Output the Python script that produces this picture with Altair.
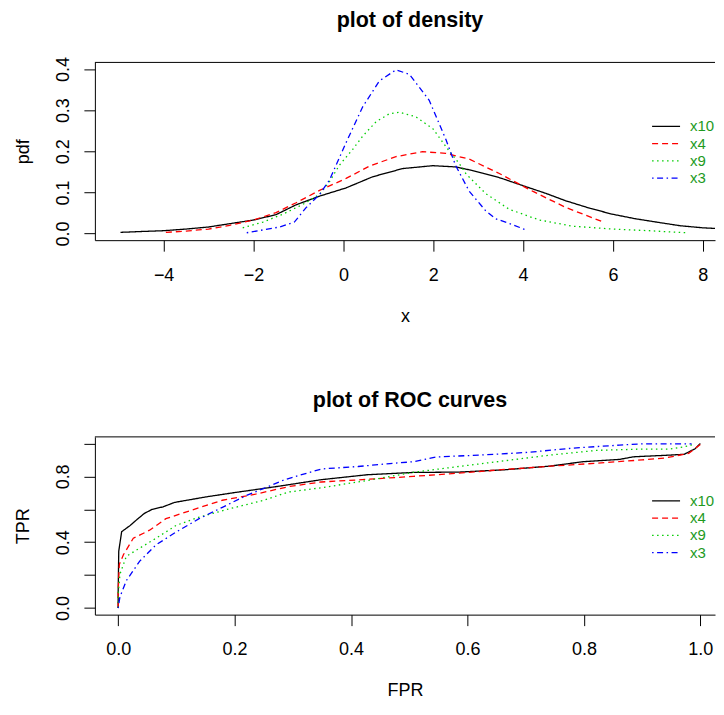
import altair as alt
import pandas as pd

series = ["x10", "x4", "x9", "x3"]
colors = ["#000000", "#FF0000", "#00CD00", "#0000FF"]
dashes = [[1, 0], [6, 4], [1.5, 3.5], [1.5, 3.5, 6, 3.5]]
legend_text_color = "#1E9A1E"
FONT = "Liberation Sans"

# ---- density panel data ----
d_x10_x = [-4.96, -4.5, -4.0, -3.5, -3.0, -2.53, -2.0, -1.5, -1.05, -0.53, 0.06, 0.65, 1.32, 1.99,
           2.5, 2.8, 3.1, 3.5, 4.06, 4.5, 4.94, 5.5, 5.99, 6.5, 7.02, 7.5, 8.0, 8.36, 8.7]
d_x10_y = [0.003, 0.005, 0.007, 0.011, 0.016, 0.024, 0.033, 0.046, 0.070, 0.091, 0.111, 0.138, 0.158, 0.165,
           0.162, 0.155, 0.147, 0.135, 0.114, 0.098, 0.080, 0.061, 0.047, 0.036, 0.027, 0.019, 0.014, 0.012, 0.010]
d_x4_x = [-3.95, -3.5, -3.0, -2.53, -2.0, -1.5, -1.05, -0.53, 0.06, 0.58, 1.17, 1.76, 2.28, 2.8,
          3.47, 4.21, 4.94, 5.76]
d_x4_y = [0.003, 0.006, 0.011, 0.020, 0.033, 0.051, 0.075, 0.105, 0.134, 0.164, 0.187, 0.199, 0.195, 0.181,
          0.146, 0.103, 0.064, 0.029]
d_x9_x = [-2.24, -1.79, -1.35, -0.9, -0.53, -0.31, -0.09, 0.21, 0.43, 0.73, 1.02, 1.24, 1.61, 1.99,
          2.36, 2.58, 2.73, 3.17, 3.69, 4.36, 5.1, 5.98, 6.8, 7.62]
d_x9_y = [0.014, 0.028, 0.047, 0.071, 0.095, 0.126, 0.166, 0.205, 0.237, 0.272, 0.291, 0.295, 0.284, 0.255,
          0.200, 0.170, 0.145, 0.097, 0.059, 0.033, 0.018, 0.011, 0.007, 0.002]
d_x3_x = [-2.15, -1.42, -1.09, -0.83, -0.53, -0.31, 0.06, 0.43, 0.8, 1.17, 1.47, 1.91, 2.28, 2.5,
          2.8, 3.17, 3.39, 3.76, 4.06]
d_x3_y = [0.002, 0.016, 0.028, 0.063, 0.095, 0.130, 0.221, 0.308, 0.371, 0.398, 0.387, 0.324, 0.229, 0.165,
          0.103, 0.055, 0.036, 0.022, 0.009]

# ---- ROC panel data ----
r_x10_fpr = [0.0, 0.0, 0.001, 0.006, 0.02, 0.034, 0.045, 0.058, 0.077, 0.097, 0.152, 0.199, 0.27, 0.349,
             0.428, 0.507, 0.585, 0.664, 0.743, 0.798, 0.861, 0.885, 0.94, 0.972, 0.991, 1.0]
r_x10_tpr = [0.0, 0.10, 0.345, 0.464, 0.50, 0.543, 0.575, 0.599, 0.615, 0.642, 0.676, 0.701, 0.737, 0.780,
             0.810, 0.824, 0.826, 0.840, 0.863, 0.889, 0.903, 0.919, 0.928, 0.934, 0.968, 1.0]
r_x4_fpr = [0.0, 0.0, 0.002, 0.009, 0.026, 0.054, 0.082, 0.122, 0.179, 0.236, 0.293, 0.349, 0.428, 0.507,
            0.585, 0.664, 0.743, 0.822, 0.9, 0.94, 0.98, 1.0]
r_x4_tpr = [0.0, 0.10, 0.265, 0.324, 0.424, 0.473, 0.543, 0.590, 0.655, 0.692, 0.738, 0.766, 0.782, 0.800,
            0.820, 0.842, 0.862, 0.880, 0.900, 0.912, 0.940, 0.994]
r_x9_fpr = [0.0, 0.0, 0.003, 0.014, 0.037, 0.065, 0.1, 0.139, 0.19, 0.247, 0.293, 0.349, 0.428, 0.507,
            0.585, 0.664, 0.743, 0.822, 0.9, 0.948, 0.98, 0.99]
r_x9_tpr = [0.0, 0.08, 0.205, 0.314, 0.364, 0.424, 0.503, 0.552, 0.602, 0.652, 0.705, 0.731, 0.775, 0.825,
            0.860, 0.895, 0.930, 0.958, 0.966, 0.966, 0.985, 0.998]
r_x3_fpr = [0.0, 0.003, 0.014, 0.037, 0.065, 0.1, 0.139, 0.179, 0.219, 0.253, 0.286, 0.349, 0.412, 0.467,
            0.507, 0.546, 0.625, 0.704, 0.782, 0.861, 0.9, 0.985]
r_x3_tpr = [0.0, 0.067, 0.166, 0.285, 0.384, 0.463, 0.543, 0.612, 0.682, 0.731, 0.780, 0.845, 0.860, 0.878,
            0.889, 0.918, 0.930, 0.946, 0.972, 0.990, 0.998, 0.998]

W = 621
H = 178
PX_DENS = 45.0      # pixels per x unit, top panel
PX_ROC = 583.0      # pixels per x unit, bottom panel
dens_dom = [-5.53, -5.53 + W / PX_DENS]
roc_dom = [-0.04, -0.04 + W / PX_ROC]


def make_df(pairs):
    rows = []
    for s, (xs, ys) in zip(series, pairs):
        for i, (a, b) in enumerate(zip(xs, ys)):
            rows.append({"series": s, "x": a, "y": b, "order": i})
    return pd.DataFrame(rows)


dens = make_df([(d_x10_x, d_x10_y), (d_x4_x, d_x4_y), (d_x9_x, d_x9_y), (d_x3_x, d_x3_y)])
roc = make_df([(r_x10_fpr, r_x10_tpr), (r_x4_fpr, r_x4_tpr), (r_x9_fpr, r_x9_tpr), (r_x3_fpr, r_x3_tpr)])

color_enc = alt.Color("series:N", scale=alt.Scale(domain=series, range=colors), legend=None)
dash_enc = alt.StrokeDash("series:N", scale=alt.Scale(domain=series, range=dashes), legend=None)


def x_axis(title, values, fmt):
    return alt.Axis(values=values, format=fmt, title=title, tickSize=11, labelPadding=29,
                    labelBaseline="alphabetic", labelFlush=False, labelOverlap=False,
                    titleY=81, titleBaseline="alphabetic", grid=False)


def y_axis(title, values, label_expr=None):
    kw = dict(values=values, format=".1f", title=title, tickSize=11, labelPadding=15,
              labelAngle=270, labelAlign="center", labelBaseline="alphabetic",
              labelFlush=False, labelOverlap=False,
              titleAngle=270, titleX=-66, titleY=H / 2, titleAlign="center",
              titleBaseline="alphabetic", grid=False)
    if label_expr:
        kw["labelExpr"] = label_expr
    return alt.Axis(**kw)


def frame_and_legend():
    src = pd.DataFrame({"series": ["frame"]})
    layers = [alt.Chart(src).mark_rule(color="black", strokeWidth=1).encode(
        x=alt.value(0), x2=alt.value(W), y=alt.value(0))]
    for i, (s, c, d) in enumerate(zip(series, colors, dashes)):
        yy = 64 + 17.3 * i
        row = pd.DataFrame({"series": [s]})
        layers.append(alt.Chart(row).mark_rule(color=c, strokeDash=d, strokeWidth=1.3).encode(
            x=alt.value(558), x2=alt.value(586), y=alt.value(yy)))
        layers.append(alt.Chart(row).mark_text(align="left", baseline="middle", font=FONT, fontSize=15,
                                               color=legend_text_color).encode(
            x=alt.value(596), y=alt.value(yy), text="series:N"))
    return layers


top_lines = alt.Chart(dens).mark_line(clip=True, strokeWidth=1.3).encode(
    x=alt.X("x:Q", scale=alt.Scale(domain=dens_dom, nice=False, zero=False),
            axis=x_axis("x", [-4, -2, 0, 2, 4, 6, 8], "d")),
    y=alt.Y("y:Q", scale=alt.Scale(domain=[-0.016, 0.416], nice=False, zero=False),
            axis=y_axis("pdf", [0, 0.1, 0.2, 0.3, 0.4])),
    color=color_enc, strokeDash=dash_enc, order="order:Q")

top = alt.layer(top_lines, *frame_and_legend()).properties(
    width=W, height=H, title=alt.TitleParams("plot of density", dx=5))

roc_expr = "(abs(datum.value) < 0.01 || abs(datum.value - 0.4) < 0.01 || abs(datum.value - 0.8) < 0.01) ? format(datum.value, '.1f') : ''"

bot_lines = alt.Chart(roc).mark_line(clip=True, strokeWidth=1.3).encode(
    x=alt.X("x:Q", scale=alt.Scale(domain=roc_dom, nice=False, zero=False),
            axis=x_axis("FPR", [0, 0.2, 0.4, 0.6, 0.8, 1.0], ".1f")),
    y=alt.Y("y:Q", scale=alt.Scale(domain=[-0.04, 1.04], nice=False, zero=False),
            axis=y_axis("TPR", [0, 0.2, 0.4, 0.6, 0.8, 1.0], roc_expr)),
    color=color_enc, strokeDash=dash_enc, order="order:Q")

bottom = alt.layer(bot_lines, *frame_and_legend()).properties(
    width=W, height=H, title=alt.TitleParams("plot of ROC curves", dx=5))

chart = alt.vconcat(top, bottom, spacing=65).properties(
    padding={"left": 7, "top": 1, "right": 0, "bottom": 0}
).configure_view(stroke=None).configure_axis(
    labelFont=FONT, titleFont=FONT, labelFontSize=18, titleFontSize=18, titleFontWeight="normal",
    labelColor="black", titleColor="black", tickColor="black", domainColor="black",
    tickWidth=1, domainWidth=1
).configure_title(
    font=FONT, fontSize=21.5, fontWeight="bold", color="black", anchor="middle", frame="group",
    baseline="alphabetic", offset=25
)

chart.save("out.html", embed_options={"renderer": "svg", "actions": False})
